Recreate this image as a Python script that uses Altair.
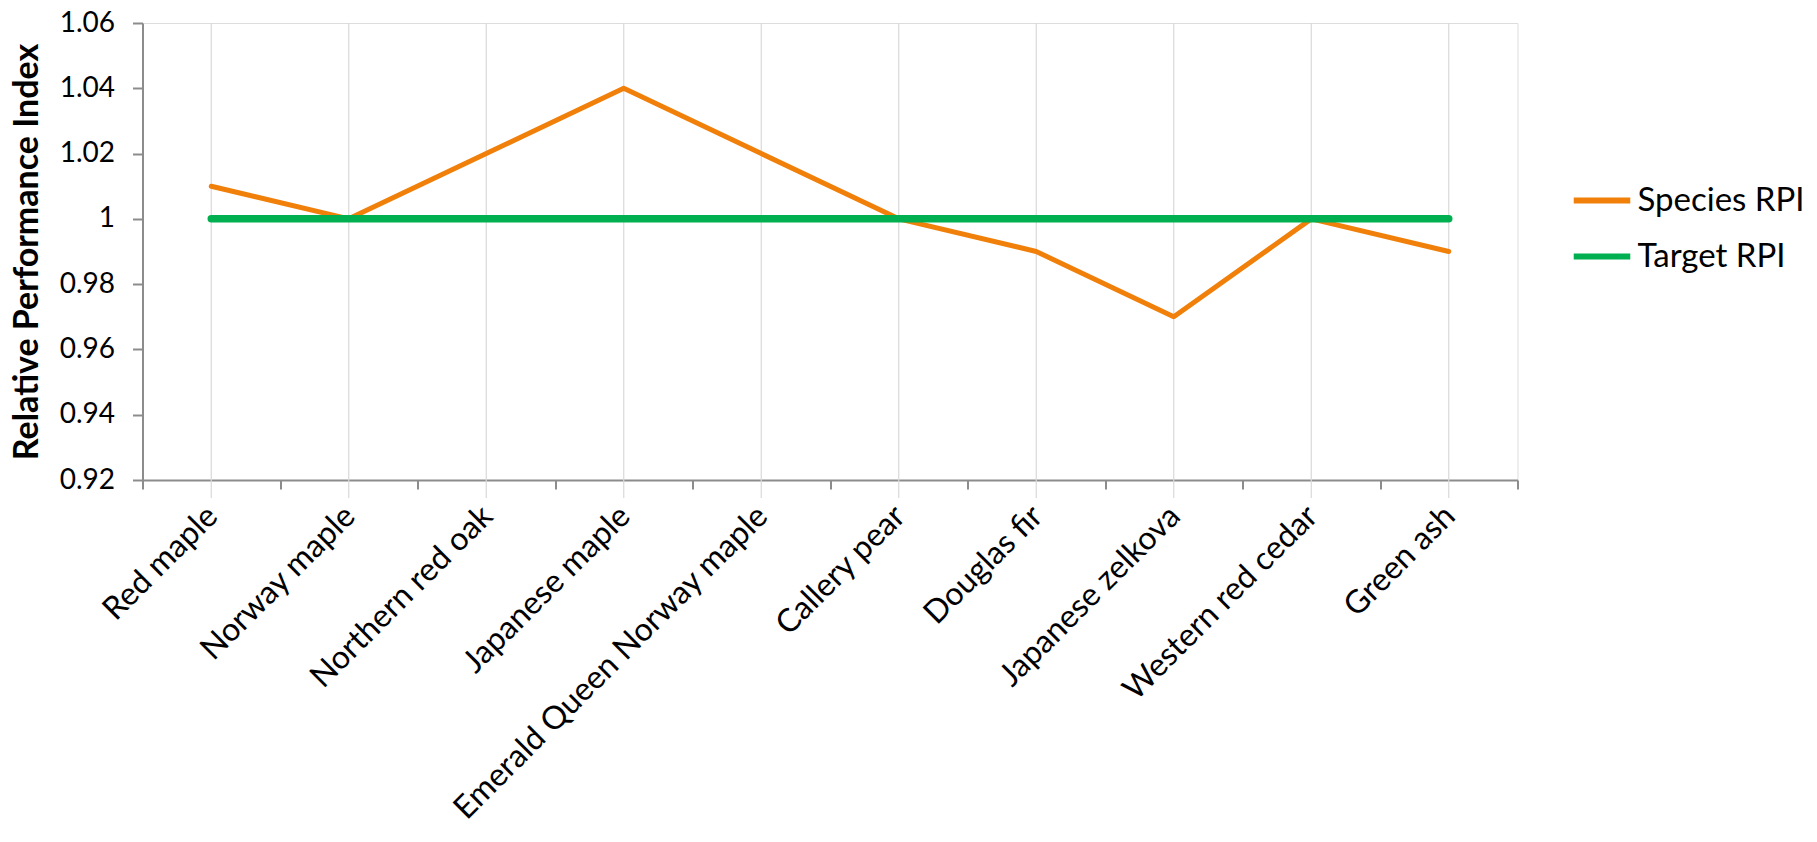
import altair as alt
import pandas as pd

species = ["Red maple", "Norway maple", "Northern red oak", "Japanese maple",
           "Emerald Queen Norway maple", "Callery pear", "Douglas fir",
           "Japanese zelkova", "Western red cedar", "Green ash"]
species_rpi = [1.01, 1.00, 1.02, 1.04, 1.02, 1.00, 0.99, 0.97, 1.00, 0.99]
target_rpi = [1.00, 1.00, 1.00, 1.00, 1.00, 1.00, 1.00, 1.00, 1.00, 1.00]
series_names = ["Species RPI", "Target RPI"]
series_colors = ["#F0800A", "#00B050"]
y_ticks = [0.92, 0.94, 0.96, 0.98, 1.00, 1.02, 1.04, 1.06]

rows = []
for s, v in zip(species, species_rpi):
    rows.append({"species": s, "value": v, "series": series_names[0]})
for s, v in zip(species, target_rpi):
    rows.append({"species": s, "value": v, "series": series_names[1]})
df = pd.DataFrame(rows)

FONT = "Lato"
W, H = 1375, 457

xscale = alt.Scale(type="band", domain=species, paddingInner=0, paddingOuter=0)
color = alt.Color("series:N", scale=alt.Scale(domain=series_names, range=series_colors),
                  legend=alt.Legend(title=None, orient="none", legendX=1428, legendY=146,
                                    symbolType="stroke", symbolSize=3200, symbolStrokeWidth=6,
                                    labelFontSize=33, labelFont=FONT, labelColor="#000000",
                                    labelOffset=4, rowPadding=7, padding=0, labelLimit=0))

base = alt.Chart(df)

grid = base.transform_filter(alt.datum.series == series_names[0]).mark_rule(
    color="#D9D9D9", strokeWidth=1.2
).encode(
    x=alt.X("species:N", scale=xscale, bandPosition=0.5, sort=species,
            axis=alt.Axis(title=None, tickBand="extent", grid=False, labelAngle=-45,
                          labelAlign="right", labelBaseline="top", labelFontSize=32,
                          labelFont=FONT, labelColor="#000000", labelPadding=11,
                          labelOffset=-10,
                          tickSize=9, tickWidth=2, tickColor="#8C8C8C",
                          domainColor="#8C8C8C", domainWidth=2, labelLimit=0)),
    y=alt.value(0),
    y2=alt.value(H + 18),
)

species_line = base.transform_filter(alt.datum.series == series_names[0]).mark_line(
    strokeWidth=5, strokeCap="round", strokeJoin="round"
).encode(
    x=alt.X("species:N", scale=xscale, bandPosition=0.5, sort=species),
    y=alt.Y("value:Q", scale=alt.Scale(domain=[0.92, 1.06], zero=False, nice=False),
            axis=alt.Axis(title="Relative Performance Index", values=y_ticks, format=".2~f",
                          grid=False, labelFontSize=28, labelFont=FONT, labelColor="#000000",
                          labelPadding=18, tickSize=10, tickWidth=2, tickColor="#8C8C8C",
                          domainColor="#8C8C8C", domainWidth=2,
                          titleFont=FONT, titleFontSize=34, titleFontWeight="bold",
                          titleColor="#000000", titleX=-98, titleY=H / 2)),
    color=color,
)

target_line = base.transform_filter(alt.datum.series == series_names[1]).mark_line(
    strokeWidth=7.5, strokeCap="round"
).encode(
    x=alt.X("species:N", scale=xscale, bandPosition=0.5, sort=species),
    y=alt.Y("value:Q"),
    color=color,
)

chart = alt.layer(grid, species_line, target_line).properties(
    width=W, height=H,
    autosize=alt.AutoSizeParams(type="none"),
    padding={"left": 134.5, "top": 15, "right": 290, "bottom": 360},
).configure_view(stroke=None).configure(background="white")

chart.save("out.html", embed_options={"renderer": "svg", "actions": False})
